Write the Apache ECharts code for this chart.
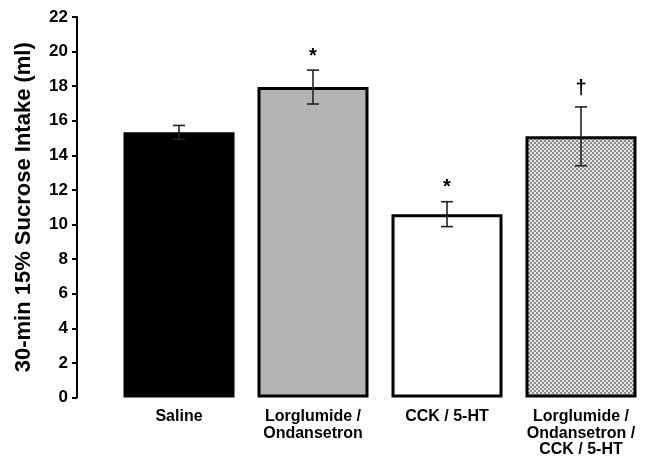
<!DOCTYPE html>
<html>
<head>
<meta charset="utf-8">
<script src="https://cdn.jsdelivr.net/npm/echarts@6/dist/echarts.min.js"></script>
<style>
html,body{margin:0;padding:0;background:#fff;}
#chart{width:648px;height:458px;}
</style>
</head>
<body>
<div id="chart"></div>
<script>
const categories = ['Saline', 'Lorglumide /\nOndansetron', 'CCK / 5-HT', 'Lorglumide /\nOndansetron /\nCCK / 5-HT'];
const means = [15.33, 17.95, 10.6, 15.1];
const sems = [0.4, 0.98, 0.72, 1.7];
const marks = ['', '*', '*', '†'];
const yTicks = [0, 2, 4, 6, 8, 10, 12, 14, 16, 18, 20, 22];

// checkered pattern for 4th bar
const pc = document.createElement('canvas');
pc.width = 4; pc.height = 4;
const pctx = pc.getContext('2d');
pctx.fillStyle = '#e6e6e6'; pctx.fillRect(0, 0, 4, 4);
pctx.fillStyle = '#8a8a8a';
pctx.fillRect(0, 0, 2, 2); pctx.fillRect(2, 2, 2, 2);

const fills = ['#000000', '#b4b4b4', '#ffffff', { image: pc, repeat: 'repeat' }];

const font = '"Liberation Sans", Arial, sans-serif';
const chart = echarts.init(document.getElementById('chart'));
chart.setOption({
  animation: false,
  backgroundColor: '#fff',
  grid: { left: 112, right: 0, top: 17, bottom: 56 },
  xAxis: {
    type: 'category',
    data: categories,
    axisLine: { show: false },
    axisTick: { show: false },
    axisLabel: { color: '#000', fontFamily: font, fontWeight: 'bold', fontSize: 16, lineHeight: 16.5, margin: 11, interval: 0 }
  },
  yAxis: {
    type: 'value', min: 0, max: 22, interval: 2,
    offset: 35,
    name: '30-min 15% Sucrose Intake (ml)',
    nameLocation: 'middle', nameGap: 42,
    nameTextStyle: { color: '#000', fontFamily: font, fontWeight: 'bold', fontSize: 22 },
    axisLine: { show: true, lineStyle: { color: '#000', width: 2 } },
    axisTick: { show: true, inside: false, length: 5, lineStyle: { color: '#000', width: 2 } },
    axisLabel: { color: '#000', fontFamily: font, fontWeight: 'bold', fontSize: 17, margin: 9,
      formatter: v => yTicks.includes(v) ? String(v) : '' },
    splitLine: { show: false }
  },
  series: [
    {
      type: 'bar',
      barWidth: 111,
      data: means.map((v, i) => ({
        value: v,
        itemStyle: { color: fills[i], borderColor: '#000', borderWidth: i === 0 ? 0 : 3 }
      })),
      z: 2
    },
    {
      type: 'custom',
      z: 5,
      data: means.map((m, i) => [i, m, sems[i]]),
      renderItem: function (params, api) {
        const i = api.value(0), m = api.value(1), s = api.value(2);
        const top = api.coord([i, m + s]);
        const bot = api.coord([i, m - s]);
        const hw = 6;
        const st = { stroke: '#222', lineWidth: 1.6 };
        const children = [
          { type: 'line', shape: { x1: top[0], y1: top[1], x2: bot[0], y2: bot[1] }, style: st },
          { type: 'line', shape: { x1: top[0] - hw, y1: top[1], x2: top[0] + hw, y2: top[1] }, style: st },
          { type: 'line', shape: { x1: bot[0] - hw, y1: bot[1], x2: bot[0] + hw, y2: bot[1] }, style: st }
        ];
        const mk = marks[params.dataIndex];
        if (mk) {
          const gap = mk === '*' ? 4 : 8;
          children.push({
            type: 'text',
            style: { text: mk, x: top[0], y: top[1] - gap, align: 'center', verticalAlign: 'bottom',
              fill: '#000', font: 'bold 20px ' + font }
          });
        }
        return { type: 'group', children: children };
      }
    }
  ]
});
</script>
</body>
</html>
